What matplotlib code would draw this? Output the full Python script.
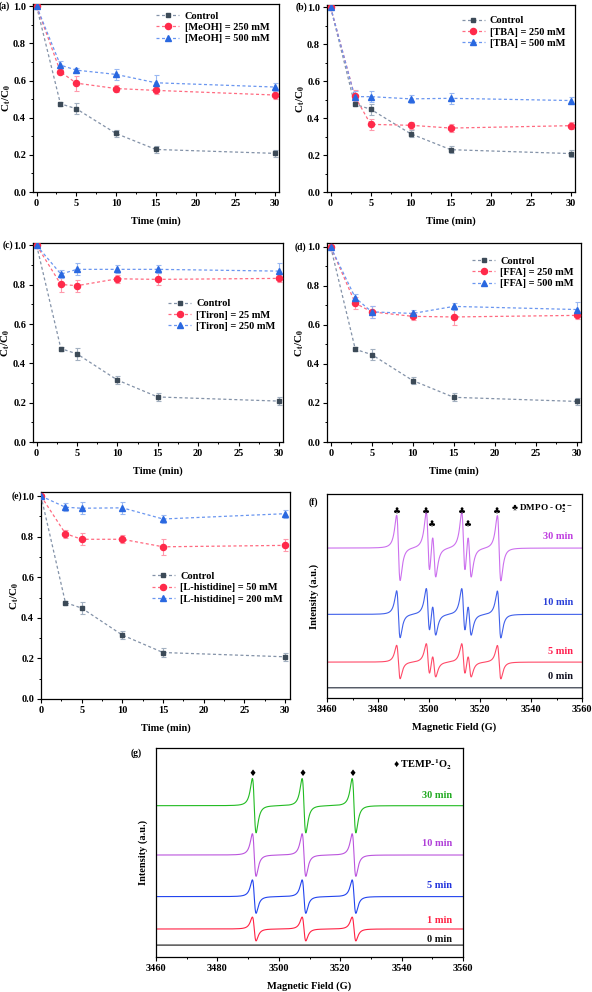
import numpy as np
import matplotlib
matplotlib.use('Agg')
import matplotlib.pyplot as plt
from matplotlib.ticker import MultipleLocator, NullLocator, FormatStrFormatter
from matplotlib.lines import Line2D

plt.rcParams['font.family'] = ['Liberation Serif', 'DejaVu Sans']
plt.rcParams['font.weight'] = 'bold'
plt.rcParams['axes.labelweight'] = 'bold'
plt.rcParams['mathtext.fontset'] = 'stix'
plt.rcParams['mathtext.default'] = 'bf'
plt.rcParams['axes.linewidth'] = 0.9
plt.rcParams['xtick.direction'] = 'out'
plt.rcParams['ytick.direction'] = 'out'

# ---------------- kinetic data ----------------
time = [0, 3, 5, 10, 15, 30]
control = [1.0, 0.475, 0.448, 0.315, 0.229, 0.208]
control_err = [0.0, 0.01, 0.03, 0.02, 0.02, 0.02]

meoh250 = [1.0, 0.647, 0.586, 0.557, 0.547, 0.522]
meoh250_err = [0.0, 0.01, 0.04, 0.02, 0.02, 0.02]
meoh500 = [1.0, 0.683, 0.656, 0.633, 0.588, 0.565]
meoh500_err = [0.0, 0.02, 0.01, 0.03, 0.04, 0.02]

tba250 = [1.0, 0.520, 0.366, 0.361, 0.346, 0.359]
tba250_err = [0.0, 0.03, 0.03, 0.02, 0.02, 0.02]
tba500 = [1.0, 0.516, 0.516, 0.504, 0.507, 0.495]
tba500_err = [0.0, 0.03, 0.03, 0.02, 0.03, 0.02]

tiron25 = [1.0, 0.801, 0.795, 0.830, 0.827, 0.832]
tiron25_err = [0.0, 0.04, 0.03, 0.02, 0.03, 0.02]
tiron250 = [1.0, 0.854, 0.878, 0.878, 0.878, 0.869]
tiron250_err = [0.0, 0.02, 0.03, 0.02, 0.02, 0.04]

ffa250 = [1.0, 0.711, 0.667, 0.644, 0.641, 0.649]
ffa250_err = [0.0, 0.03, 0.03, 0.02, 0.04, 0.02]
ffa500 = [1.0, 0.739, 0.667, 0.659, 0.695, 0.679]
ffa500_err = [0.0, 0.02, 0.03, 0.02, 0.02, 0.04]

his50 = [1.0, 0.815, 0.787, 0.787, 0.750, 0.757]
his50_err = [0.0, 0.02, 0.03, 0.02, 0.04, 0.03]
his200 = [1.0, 0.945, 0.940, 0.942, 0.887, 0.913]
his200_err = [0.0, 0.02, 0.03, 0.03, 0.02, 0.02]

labels_a = ['Control', '[MeOH] = 250 mM', '[MeOH] = 500 mM']
labels_b = ['Control', '[TBA] = 250 mM', '[TBA] = 500 mM']
labels_c = ['Control', '[Tiron] = 25 mM', '[Tiron] = 250 mM']
labels_d = ['Control', '[FFA] = 250 mM', '[FFA] = 500 mM']
labels_e = ['Control', '[L-histidine] = 50 mM', '[L-histidine] = 200 mM']

# ---------------- EPR data (line positions / relative intensities) ----------------
dmpo_lines = [3488.0, 3499.6, 3502.0, 3513.5, 3515.9, 3527.5]
dmpo_rel = [1.0, 1.0, 0.75, 1.0, 0.75, 1.0]
dmpo_times = ['30 min', '10 min', '5 min', '0 min']
dmpo_base = [0.735, 0.41, 0.176, 0.05]
dmpo_amp = [0.16, 0.115, 0.082, 0.0]

temp_lines = [3492.0, 3508.2, 3524.5]
temp_rel = [1.0, 1.0, 1.0]
temp_times = ['30 min', '10 min', '5 min', '1 min', '0 min']
temp_base = [0.724, 0.488, 0.289, 0.134, 0.057]
temp_amp = [0.13, 0.102, 0.08, 0.057, 0.0]

# ---------------- styles ----------------
W, H = 592, 992
fig = plt.figure(figsize=(W / 100, H / 100), dpi=100)

def ax_at(l, t, r, b):
    return fig.add_axes([l / W, 1 - b / H, (r - l) / W, (b - t) / H])

styles = [
    dict(marker='s', mc='#3c4a57', lc='#8392a8', ec='#a3b0c0', ms=3.5),
    dict(marker='o', mc='#ff2a4a', lc='#ff6a80', ec='#ff9aac', ms=4.4),
    dict(marker='^', mc='#2a68e0', lc='#6a96f0', ec='#9ab8f2', ms=4.4),
]
FS = 7.5

def kinetic(ax, series, errs, labels, tag, tagx, legend_kw, xlim=(-0.45, 30.5),
            ylim=(0, 1.012), ylab_x=-0.082):
    handles = []
    for y, e, lab, st in zip(series, errs, labels, styles):
        ax.errorbar(time, y, yerr=e, fmt='none', ecolor=st['ec'], elinewidth=0.8,
                    capsize=1.8, capthick=0.8, zorder=2)
        ax.plot(time, y, color=st['lc'], lw=0.9, dashes=(2.4, 2.0), zorder=3)
        ax.plot(time, y, ls='none', marker=st['marker'], color=st['mc'], ms=st['ms'],
                mec=st['mc'], zorder=4)
        handles.append(Line2D([], [], color=st['lc'], lw=0.9, dashes=(2.4, 2.0),
                              marker=st['marker'], mfc=st['mc'], mec=st['mc'], ms=st['ms']))
    ax.set_xlim(*xlim)
    ax.set_ylim(*ylim)
    ax.xaxis.set_major_locator(MultipleLocator(5))
    ax.xaxis.set_minor_locator(MultipleLocator(2.5))
    ax.yaxis.set_major_locator(MultipleLocator(0.2))
    ax.yaxis.set_minor_locator(MultipleLocator(0.1))
    ax.yaxis.set_major_formatter(FormatStrFormatter('%.1f'))
    ax.tick_params(which='major', length=3, width=0.8, labelsize=FS, pad=2)
    ax.tick_params(which='minor', length=1.6, width=0.7)
    ax.set_xlabel('Time (min)', fontsize=FS, labelpad=6)
    ax.set_ylabel('C$_t$/C$_0$', fontsize=FS + 0.5)
    ax.yaxis.set_label_coords(ylab_x, 0.5)
    ax.legend(handles, labels, frameon=False, fontsize=FS, handlelength=2.2,
              handletextpad=0.5, labelspacing=0.2, borderaxespad=0.3, **legend_kw)
    ax.text(tagx, 1.0 / ylim[1], tag, transform=ax.transAxes, fontsize=FS - 0.5,
            ha='right', va='center')

ax_a = ax_at(33, 4, 279, 192)
kinetic(ax_a, [control, meoh250, meoh500], [control_err, meoh250_err, meoh500_err],
        labels_a, '(a)', -0.092, dict(loc='upper right', bbox_to_anchor=(0.99, 1.0)))
ax_b = ax_at(327, 5, 575, 192)
kinetic(ax_b, [control, tba250, tba500], [control_err, tba250_err, tba500_err],
        labels_b, '(b)', -0.08, dict(loc='upper right', bbox_to_anchor=(0.99, 0.98)))
ax_c = ax_at(33, 243, 283, 442)
kinetic(ax_c, [control, tiron25, tiron250], [control_err, tiron25_err, tiron250_err],
        labels_c, '(c)', -0.08, dict(loc='center right', bbox_to_anchor=(1.0, 0.638)))
ax_d = ax_at(327, 243, 581, 442)
kinetic(ax_d, [control, ffa250, ffa500], [control_err, ffa250_err, ffa500_err],
        labels_d, '(d)', -0.08, dict(loc='upper right', bbox_to_anchor=(1.0, 0.97)),
        ylim=(0, 1.02))
ax_e = ax_at(41, 492, 290, 699)
kinetic(ax_e, [control, his50, his200], [control_err, his50_err, his200_err],
        labels_e, '(e)', -0.076, dict(loc='center right', bbox_to_anchor=(1.0, 0.538)),
        xlim=(0, 30.6), ylim=(0, 1.02))

# ---------------- EPR panels ----------------
field = np.linspace(3460, 3560, 5001)

def deriv_lorentz(x, x0, g):
    u = (x - x0) / g
    return -u / (1 + u ** 2) ** 2 / 0.3248

def epr(ax, lines, rel, times, base, amp, colors, tcolors, g, tag, tagpos, legend_txt,
        mark, mark_y, lab_y, leg_y, leg_fs):
    for b, a, c in zip(base, amp, colors):
        y = np.full_like(field, b)
        for x0, r in zip(lines, rel):
            y += a * r * deriv_lorentz(field, x0, g)
        ax.plot(field, y, color=c, lw=0.8)
    for t, ly, tc in zip(times, lab_y, tcolors):
        ax.text(3556.5, ly, t, color=tc, fontsize=FS, ha='right', va='center')
    for x0, my in zip(lines, mark_y):
        ax.text(x0 - g / np.sqrt(3), my, mark, fontsize=6.5, ha='center', va='center',
                family=['DejaVu Sans'])
    ax.text(3556.5, leg_y, legend_txt, fontsize=leg_fs, ha='right', va='center')
    ax.set_xlim(3460, 3560)
    ax.set_ylim(0, 1)
    ax.xaxis.set_major_locator(MultipleLocator(20))
    ax.xaxis.set_minor_locator(MultipleLocator(10))
    ax.yaxis.set_major_locator(NullLocator())
    ax.tick_params(which='major', length=3, width=0.8, labelsize=FS, pad=2)
    ax.tick_params(which='minor', length=1.6, width=0.7)
    ax.set_xlabel('Magnetic Field (G)', fontsize=FS, labelpad=6)
    ax.set_ylabel('Intensity (a.u.)', fontsize=FS, labelpad=6)
    ax.text(tagpos[0], tagpos[1], tag, transform=ax.transAxes, fontsize=FS - 0.5,
            ha='right', va='center')

ax_f = ax_at(327, 494, 582, 698)
epr(ax_f, dmpo_lines, dmpo_rel, dmpo_times, dmpo_base, dmpo_amp,
    ['#cc70ee', '#4060ea', '#ff4a68', '#202838'],
    ['#c040e0', '#2a40d8', '#ff2050', '#101020'],
    1.2, '(f)', (-0.035, 0.96), '\u2663 DMPO - O$_2^{\\bullet -}$', '\u2663',
    [0.912, 0.912, 0.848, 0.912, 0.848, 0.912],
    [0.79, 0.466, 0.23, 0.103], 0.926, 6.6)

ax_g = ax_at(156, 748, 463, 957)
epr(ax_g, temp_lines, temp_rel, temp_times, temp_base, temp_amp,
    ['#22bb22', '#bb55dd', '#2244ee', '#ff2244', '#111111'],
    ['#22aa22', '#b040d8', '#2233dd', '#ff2244', '#111111'],
    1.05, '(g)', (-0.046, 0.976), '\u2666 TEMP-$^1$O$_2$', '\u2666',
    [0.876, 0.876, 0.876],
    [0.775, 0.541, 0.34, 0.177, 0.086], 0.919, FS)

fig.savefig('out.png', dpi=100)
